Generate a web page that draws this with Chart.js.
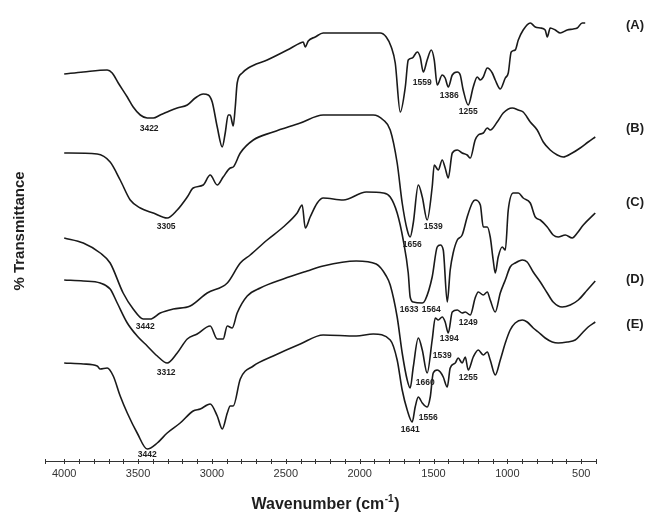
<!DOCTYPE html>
<html>
<head>
<meta charset="utf-8">
<script src="https://cdn.jsdelivr.net/npm/chart.js@4.4.0/dist/chart.umd.min.js"></script>
<style>
  html, body { margin: 0; padding: 0; background: #fff; }
</style>
</head>
<body>
<canvas id="ftirChart" width="646" height="512"></canvas>
<script>
// Spectra, wavenumber (cm-1) and offset transmittance (a.u.)
const waveA = [4000, 3871, 3709, 3675, 3634, 3573, 3533, 3485, 3438, 3397, 3350, 3303, 3235, 3167, 3113, 3059, 3025, 2998, 2964, 2930, 2910, 2890, 2876, 2856, 2842, 2829, 2795, 2754, 2626, 2490, 2402, 2382, 2368, 2348, 2301, 2247, 2064, 1861, 1820, 1786, 1759, 1725, 1691, 1671, 1644, 1610, 1590, 1569, 1543, 1515, 1495, 1475, 1441, 1421, 1400, 1373, 1339, 1319, 1299, 1265, 1231, 1204, 1183, 1163, 1136, 1102, 1082, 1048, 1014, 994, 974, 947, 926, 893, 845, 811, 777, 744, 730, 710, 676, 642, 595, 554, 527, 493, 473];
const transA = [387, 389, 391, 388, 378, 364, 354, 346, 343, 343, 346, 349, 353, 356, 363, 367, 366, 359, 334, 314, 328, 346, 346, 335, 354, 378, 388, 393, 401, 411, 418, 419, 414, 420, 424, 428, 428, 428, 424, 414, 398, 349, 374, 401, 403, 409, 404, 389, 401, 411, 401, 376, 386, 383, 374, 386, 389, 386, 371, 356, 374, 384, 381, 384, 393, 388, 381, 372, 383, 388, 409, 411, 421, 431, 438, 434, 433, 431, 424, 433, 431, 428, 431, 432, 433, 438, 438];

const waveB = [4000, 3777, 3689, 3621, 3553, 3485, 3397, 3303, 3235, 3167, 3127, 3059, 3012, 2964, 2924, 2876, 2856, 2808, 2720, 2585, 2402, 2247, 2023, 1908, 1840, 1793, 1746, 1712, 1678, 1658, 1637, 1603, 1576, 1543, 1509, 1495, 1468, 1441, 1421, 1400, 1373, 1339, 1306, 1272, 1251, 1218, 1197, 1163, 1136, 1116, 1069, 1028, 967, 926, 893, 845, 798, 757, 710, 662, 622, 561, 507, 453, 405];
const transB = [308, 307, 299, 281, 261, 253, 248, 243, 251, 264, 273, 276, 286, 276, 284, 293, 294, 308, 321, 329, 338, 346, 346, 346, 341, 331, 298, 258, 231, 224, 238, 276, 264, 241, 274, 296, 291, 301, 293, 283, 308, 311, 308, 306, 303, 321, 326, 328, 333, 331, 339, 348, 353, 351, 349, 339, 331, 319, 311, 306, 304, 308, 313, 319, 324];

const waveC = [4000, 3871, 3756, 3689, 3601, 3533, 3465, 3418, 3350, 3262, 3147, 3032, 2896, 2808, 2741, 2626, 2517, 2423, 2389, 2368, 2335, 2287, 2247, 2111, 1955, 1840, 1793, 1746, 1705, 1671, 1658, 1637, 1576, 1556, 1509, 1475, 1454, 1434, 1407, 1387, 1367, 1339, 1306, 1272, 1238, 1218, 1183, 1163, 1136, 1116, 1096, 1082, 1062, 1035, 1014, 994, 960, 926, 893, 845, 811, 777, 730, 690, 656, 608, 561, 527, 486, 405];
const transC = [223, 218, 208, 198, 168, 152, 142, 142, 148, 152, 155, 168, 178, 198, 206, 221, 234, 248, 256, 233, 244, 258, 263, 261, 269, 268, 264, 248, 221, 188, 164, 159, 158, 161, 184, 214, 216, 211, 159, 191, 208, 221, 226, 244, 258, 261, 256, 234, 234, 224, 201, 188, 204, 214, 211, 251, 268, 268, 263, 258, 244, 241, 234, 226, 224, 226, 223, 228, 236, 248];

const waveD = [4000, 3871, 3756, 3689, 3641, 3573, 3506, 3438, 3370, 3303, 3235, 3167, 3100, 3012, 2964, 2924, 2896, 2863, 2829, 2761, 2673, 2517, 2355, 2247, 2023, 1888, 1820, 1793, 1746, 1712, 1678, 1658, 1637, 1603, 1576, 1543, 1509, 1488, 1468, 1441, 1421, 1400, 1373, 1339, 1306, 1285, 1251, 1218, 1197, 1163, 1136, 1116, 1082, 1048, 1014, 981, 947, 899, 866, 825, 777, 730, 690, 629, 574, 520, 459, 405];
const transD = [181, 180, 178, 172, 158, 138, 125, 115, 105, 98, 108, 122, 127, 135, 122, 122, 135, 133, 148, 165, 173, 182, 190, 195, 200, 197, 185, 176, 144, 108, 81, 73, 94, 123, 111, 88, 121, 143, 141, 144, 139, 128, 149, 151, 148, 149, 146, 163, 169, 166, 169, 161, 149, 168, 181, 194, 198, 201, 199, 189, 179, 168, 159, 154, 156, 161, 171, 180];

const waveE = [4000, 3871, 3777, 3756, 3709, 3668, 3621, 3573, 3506, 3438, 3370, 3303, 3215, 3127, 3079, 3012, 2964, 2930, 2896, 2876, 2856, 2808, 2720, 2585, 2402, 2247, 2023, 1908, 1793, 1746, 1712, 1678, 1644, 1624, 1603, 1576, 1543, 1522, 1502, 1475, 1454, 1434, 1407, 1387, 1353, 1333, 1306, 1285, 1265, 1231, 1197, 1163, 1136, 1116, 1082, 1048, 1014, 981, 947, 899, 866, 825, 791, 744, 696, 656, 595, 541, 493, 453, 405];
const transE = [98, 97, 95, 92, 93, 85, 65, 48, 28, 12, 18, 28, 38, 50, 52, 57, 45, 32, 48, 55, 55, 82, 95, 105, 117, 126, 125, 127, 121, 101, 71, 51, 39, 54, 64, 58, 54, 64, 88, 91, 89, 84, 74, 93, 98, 103, 98, 104, 91, 104, 111, 106, 109, 101, 86, 101, 118, 131, 138, 141, 139, 133, 129, 123, 119, 118, 119, 121, 128, 134, 139];

// Series names and where they sit on the right
const seriesNames = ['(A)', '(B)', '(C)', '(D)', '(E)'];
const nameLevel = [436, 333, 259, 182, 137];

// Peak labels: text, wavenumber position, level
const peakText = ['3422', '1559', '1386', '1255',
                  '3305', '1656', '1539',
                  '3442', '1633', '1564',
                  '3312', '1249', '1394', '1539', '1660',
                  '3442', '1641', '1556', '1255'];
const peakWave = [3425, 1576, 1393, 1265,
                  3310, 1644, 1502,
                  3452, 1665, 1515,
                  3310, 1265, 1393, 1441, 1556,
                  3438, 1658, 1536, 1265];
const peakLevel = [332, 378, 365, 349,
                   234, 216, 234,
                   134, 151, 151,
                   88, 138, 122, 105, 78,
                   6, 31, 43, 83];

// x axis ticks
const tickStep = 100;
const labelStep = 500;

const spectra = [[waveA, transA], [waveB, transB], [waveC, transC], [waveD, transD], [waveE, transE]];

const annotate = {
    id: 'annotate',
    afterDraw(chart) {
        const { ctx, chartArea, scales: { x, y } } = chart;
        ctx.save();

        // cross-style tick marks on the x axis
        ctx.strokeStyle = '#333';
        ctx.lineWidth = 1;
        x.ticks.forEach(t => {
            const px = Math.round(x.getPixelForValue(t.value)) + 0.5;
            ctx.beginPath();
            ctx.moveTo(px, chartArea.bottom - 2);
            ctx.lineTo(px, chartArea.bottom + 3);
            ctx.stroke();
        });

        ctx.fillStyle = '#1e1e1e';
        ctx.textAlign = 'center';
        ctx.textBaseline = 'middle';

        // peak labels
        ctx.font = 'bold 8.5px "Liberation Sans", Arial, sans-serif';
        peakText.forEach((t, i) => {
            ctx.fillText(t, x.getPixelForValue(peakWave[i]), y.getPixelForValue(peakLevel[i]));
        });

        // series names
        ctx.font = 'bold 13px "Liberation Sans", Arial, sans-serif';
        seriesNames.forEach((n, i) => {
            ctx.fillText(n, chartArea.right + 39, y.getPixelForValue(nameLevel[i]));
        });

        // y title
        ctx.save();
        ctx.translate(20, 231);
        ctx.rotate(-Math.PI / 2);
        ctx.font = 'bold 15px "Liberation Sans", Arial, sans-serif';
        ctx.fillText('% Transmittance', 0, 0);
        ctx.restore();

        // x title with superscript
        const main = 'Wavenumber (cm';
        const sup = '-1';
        const close = ')';
        const big = 'bold 16px "Liberation Sans", Arial, sans-serif';
        const small = 'bold 10px "Liberation Sans", Arial, sans-serif';
        ctx.font = big;
        const w1 = ctx.measureText(main).width;
        const w3 = ctx.measureText(close).width;
        ctx.font = small;
        const w2 = ctx.measureText(sup).width;
        const sx = 325 - (w1 + w2 + w3) / 2;
        const ty = 505;
        ctx.textAlign = 'left';
        ctx.font = big;
        ctx.fillText(main, sx, ty);
        ctx.font = small;
        ctx.fillText(sup, sx + w1 + 0.5, ty - 6);
        ctx.font = big;
        ctx.fillText(close, sx + w1 + w2 + 1, ty);
        ctx.restore();
    }
};

new Chart(document.getElementById('ftirChart').getContext('2d'), {
    type: 'line',
    data: {
        datasets: spectra.map(([w, t], i) => ({
            label: seriesNames[i],
            data: w.map((v, j) => ({ x: v, y: t[j] })),
            borderColor: '#1a1a1a',
            borderWidth: 1.6,
            pointRadius: 0,
            fill: false,
            cubicInterpolationMode: 'monotone'
        }))
    },
    options: {
        responsive: false,
        animation: false,
        layout: { padding: { left: 45, right: 50, top: 0, bottom: 0 } },
        plugins: {
            legend: { display: false },
            tooltip: { enabled: false }
        },
        scales: {
            x: {
                type: 'linear',
                reverse: true,
                min: 400,
                max: 4130,
                afterFit: s => { s.height = 51; },
                border: { display: true, color: '#333', width: 1 },
                grid: { display: false, drawTicks: false },
                ticks: {
                    stepSize: tickStep,
                    autoSkip: false,
                    maxRotation: 0,
                    padding: 6,
                    color: '#333',
                    font: { size: 11, family: '"Liberation Sans", Arial, sans-serif' },
                    callback: v => (v % labelStep === 0 ? String(v) : '')
                }
            },
            y: {
                display: false,
                min: 0,
                max: 461
            }
        }
    },
    plugins: [annotate]
});
</script>
</body>
</html>
